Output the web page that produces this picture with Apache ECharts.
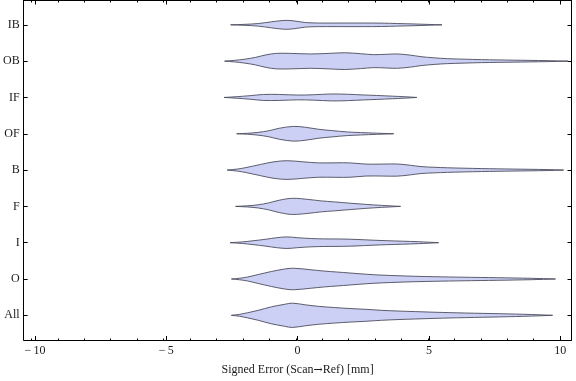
<!DOCTYPE html>
<html>
<head>
<meta charset="utf-8">
<script src="https://cdn.jsdelivr.net/npm/echarts@6/dist/echarts.min.js"></script>
<style>
html,body{margin:0;padding:0;background:#fff;}
#chart{width:576px;height:381px;}
</style>
</head>
<body>
<div id="chart"></div>
<script>
// Categories, bottom (position 1) to top (position 9)
const categories = ['All', 'O', 'I', 'F', 'B', 'OF', 'IF', 'OB', 'IB'];

// Estimated violin profiles: [signed error (mm), relative density half-width]
const profileAll = [[-2.52,0],[-2.2,1.0],[-1.9,2.6],[-1.5,5.0],[-1.0,8.5],[-0.5,11.0],[-0.2,12.2],[0.3,10.5],[0.8,9.0],[1.4,7.8],[2.0,6.8],[2.6,6.0],[3.2,5.0],[3.9,4.2],[4.5,3.7],[5.2,3.1],[6.4,2.3],[7.7,1.6],[8.9,0.8],[9.71,0]];
const profileO = [[-2.52,0],[-2.2,0.8],[-1.9,2.0],[-1.5,4.5],[-1.0,7.5],[-0.5,10.0],[-0.15,10.8],[0.5,9.3],[1.0,8.0],[1.5,7.0],[2.0,6.0],[2.6,4.8],[3.2,3.9],[3.9,3.2],[4.5,2.7],[5.2,2.3],[6.3,1.8],[7.6,1.3],[8.9,0.7],[9.82,0]];
const profileI = [[-2.57,0],[-2.1,0.8],[-1.7,1.9],[-1.2,3.5],[-0.8,5.0],[-0.4,5.8],[0.0,5.0],[0.5,4.2],[1.0,3.8],[1.7,3.7],[2.3,3.2],[2.8,2.6],[3.4,2.0],[4.0,1.5],[4.6,1.0],[5.0,0.5],[5.37,0]];
const profileF = [[-2.36,0],[-1.9,0.6],[-1.5,1.6],[-1.1,3.5],[-0.7,6.2],[-0.2,8.1],[0.4,7.0],[0.9,5.5],[1.4,4.5],[2.0,3.2],[2.6,2.0],[3.2,1.0],[3.92,0]];
const profileB = [[-2.68,0],[-2.3,1.0],[-2.0,2.3],[-1.4,5.7],[-0.9,8.3],[-0.4,9.4],[0.2,8.3],[0.8,7.2],[1.5,7.3],[2.0,7.2],[2.6,6.0],[3.2,6.0],[3.8,6.1],[4.3,4.8],[4.7,3.5],[5.2,2.8],[5.7,2.3],[6.3,1.9],[7.0,1.5],[8.2,1.0],[9.5,0.5],[10.13,0]];
const profileOF = [[-2.32,0],[-1.9,0.5],[-1.5,1.4],[-1.1,3.0],[-0.7,5.5],[-0.15,7.4],[0.3,6.5],[0.8,4.5],[1.3,3.2],[1.9,1.8],[2.4,1.2],[3.0,0.6],[3.66,0]];
const profileIF = [[-2.80,0],[-2.3,0.8],[-1.8,1.8],[-1.3,3.0],[-0.7,3.0],[0.0,2.4],[0.6,2.7],[1.3,3.5],[1.9,3.2],[2.5,2.5],[3.0,2.0],[3.6,1.3],[4.1,0.7],[4.54,0]];
const profileOB = [[-2.78,0],[-2.4,0.8],[-2.0,2.0],[-1.6,3.8],[-1.2,6.3],[-0.8,7.8],[-0.3,7.8],[0.5,7.2],[1.2,7.8],[1.8,8.4],[2.4,7.5],[2.9,6.5],[3.4,6.9],[3.8,7.2],[4.3,6.0],[4.7,4.5],[5.2,3.3],[5.7,2.5],[6.3,2.0],[7.0,1.5],[8.2,1.0],[9.5,0.5],[10.3,0]];
const profileIB = [[-2.55,0],[-2.0,0.5],[-1.5,1.3],[-1.0,3.0],[-0.7,4.0],[-0.4,4.5],[-0.1,3.8],[0.3,2.3],[0.8,1.8],[1.5,1.8],[2.5,1.8],[3.2,1.7],[3.8,1.3],[4.4,0.9],[5.0,0.4],[5.5,0]];

const profiles = [profileAll, profileO, profileI, profileF, profileB, profileOF, profileIF, profileOB, profileIB];

// Tick values
const xMajorTicks = [-10, -5, 0, 5, 10];
const xMinorTicks = [-10,-9,-8,-7,-6,-5,-4,-3,-2,-1,0,1,2,3,4,5,6,7,8,9,10];
const yTicks = [1, 2, 3, 4, 5, 6, 7, 8, 9];

const X_MIN = -10.43, X_MAX = 10.43, Y_MIN = 0.32, Y_MAX = 9.67;
const DENSITY_TO_UNITS = 1 / 36.46;

const font = 'Liberation Serif';
const txtColor = '#1a1a1a';
const gridRect = { left: 20, right: 4.5, top: 0.5, bottom: 40.5 };

const chart = echarts.init(document.getElementById('chart'), null, { renderer: 'canvas' });

function renderViolin(params, api) {
  const idx = api.value(2);
  const prof = profiles[idx];
  const yc = idx + 1;
  const pts = [];
  for (let i = 0; i < prof.length; i++) {
    pts.push(api.coord([prof[i][0], yc + prof[i][1] * DENSITY_TO_UNITS]));
  }
  for (let i = prof.length - 1; i >= 0; i--) {
    pts.push(api.coord([prof[i][0], yc - prof[i][1] * DENSITY_TO_UNITS]));
  }
  return {
    type: 'polygon',
    shape: { points: pts, smooth: 0.35 },
    style: { fill: '#cbd0f4', stroke: '#4d4d5e', lineWidth: 0.9 }
  };
}

const option = {
  animation: false,
  backgroundColor: '#ffffff',
  grid: [
    Object.assign({ containLabel: false }, gridRect),
    Object.assign({ containLabel: false }, gridRect)
  ],
  xAxis: [
    {
      gridIndex: 0, type: 'value', position: 'bottom', min: X_MIN, max: X_MAX,
      axisLine: { show: true, onZero: false, lineStyle: { color: '#000', width: 1 } },
      axisTick: { show: true, inside: true, length: 4, customValues: xMajorTicks, lineStyle: { color: '#000' } },
      axisLabel: {
        show: true, customValues: xMajorTicks, margin: 5,
        fontFamily: font, fontSize: 12, color: txtColor,
        formatter: v => (v < 0 ? '\u2212\u2009' + Math.abs(v) : String(v))
      },
      splitLine: { show: false },
      name: 'Signed Error (Scan{a|\u2192}Ref) [mm]', nameLocation: 'middle', nameGap: 24,
      nameTextStyle: {
        fontFamily: font, fontSize: 12, color: txtColor,
        rich: { a: { fontFamily: 'DejaVu Serif', fontSize: 11, color: txtColor } }
      }
    },
    {
      gridIndex: 0, type: 'value', position: 'top', min: X_MIN, max: X_MAX,
      axisLine: { show: true, onZero: false, lineStyle: { color: '#000', width: 1 } },
      axisTick: { show: true, inside: true, length: 4, customValues: xMajorTicks, lineStyle: { color: '#000' } },
      axisLabel: { show: false }, splitLine: { show: false }
    },
    {
      gridIndex: 1, type: 'value', position: 'bottom', min: X_MIN, max: X_MAX,
      axisLine: { show: false, onZero: false },
      axisTick: { show: true, inside: true, length: 2, customValues: xMinorTicks, lineStyle: { color: '#000' } },
      axisLabel: { show: false }, splitLine: { show: false }
    },
    {
      gridIndex: 1, type: 'value', position: 'top', min: X_MIN, max: X_MAX,
      axisLine: { show: false, onZero: false },
      axisTick: { show: true, inside: true, length: 2, customValues: xMinorTicks, lineStyle: { color: '#000' } },
      axisLabel: { show: false }, splitLine: { show: false }
    }
  ],
  yAxis: [
    {
      gridIndex: 0, type: 'value', position: 'left', min: Y_MIN, max: Y_MAX,
      axisLine: { show: true, onZero: false, lineStyle: { color: '#000', width: 1 } },
      axisTick: { show: true, inside: true, length: 4, customValues: yTicks, lineStyle: { color: '#000' } },
      axisLabel: {
        show: true, customValues: yTicks, margin: 4,
        fontFamily: font, fontSize: 12, color: txtColor,
        formatter: v => categories[Math.round(v) - 1]
      },
      splitLine: { show: false }
    },
    {
      gridIndex: 0, type: 'value', position: 'right', min: Y_MIN, max: Y_MAX,
      axisLine: { show: true, onZero: false, lineStyle: { color: '#000', width: 1 } },
      axisTick: { show: true, inside: true, length: 4, customValues: yTicks, lineStyle: { color: '#000' } },
      axisLabel: { show: false }, splitLine: { show: false }
    },
    {
      gridIndex: 1, type: 'value', min: Y_MIN, max: Y_MAX, show: false
    }
  ],
  series: [
    {
      type: 'custom',
      xAxisIndex: 0, yAxisIndex: 0,
      renderItem: renderViolin,
      encode: { x: 0, y: 1 },
      data: categories.map((c, i) => [0, i + 1, i]),
      clip: true,
      silent: true
    }
  ]
};

chart.setOption(option);
</script>
</body>
</html>
